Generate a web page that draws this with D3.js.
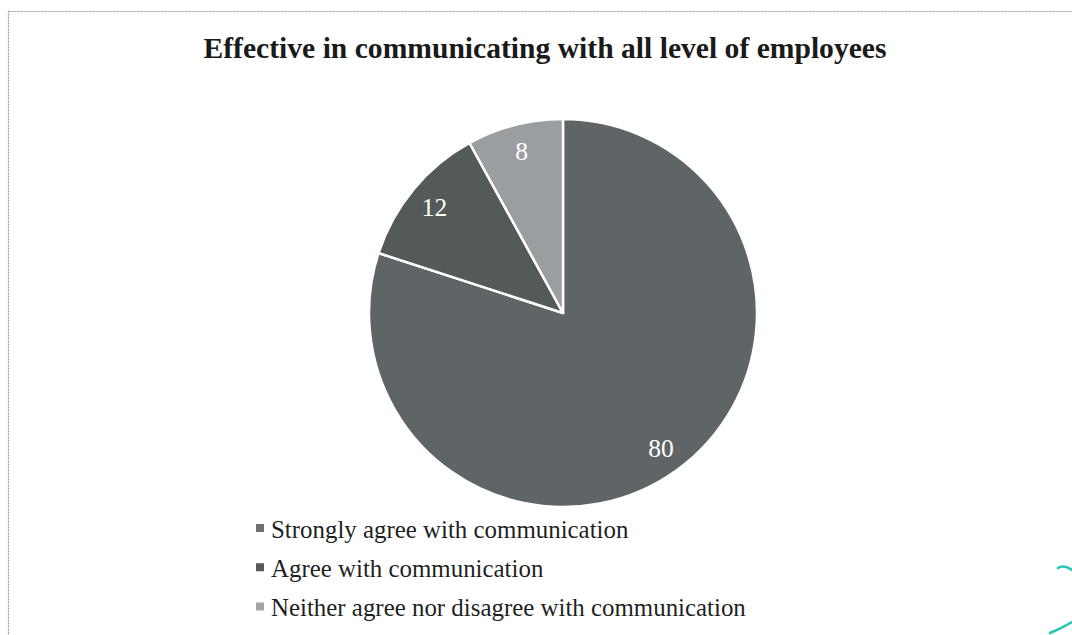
<!DOCTYPE html>
<html>
<head>
<meta charset="utf-8">
<script src="https://cdn.jsdelivr.net/npm/d3@7"></script>
<style>
html,body{margin:0;padding:0;background:#fff;}
svg{display:block;}
</style>
</head>
<body>
<svg id="chart" width="1072" height="635"></svg>
<script>
const title = "Effective in communicating with all level of employees";
const categories = ["Strongly agree with communication", "Agree with communication", "Neither agree nor disagree with communication"];
const values = [80, 12, 8];
const sliceColors = ["#5f6567", "#545a59", "#9b9ea0"];
const legendColors = ["#6e7070", "#585b5b", "#a3a6a7"];

const svg = d3.select("#chart");
const W = 1072, H = 635;

// frame
svg.append("rect").attr("x", 8.5).attr("y", 11.5).attr("width", W + 10).attr("height", H + 10)
  .attr("fill", "none").attr("stroke", "#9a9a9a").attr("stroke-width", 1.2).attr("stroke-dasharray", "2,1");

svg.append("text").attr("x", 545).attr("y", 58)
  .attr("text-anchor", "middle")
  .attr("font-family", "'Liberation Serif', 'Times New Roman', serif")
  .attr("font-weight", "bold").attr("font-size", 29.6).attr("fill", "#1a1a1a")
  .text(title);

const cx = 563, cy = 313, r = 194;
const pie = d3.pie().sort(null).value(d => d)(values);
const arc = d3.arc().innerRadius(0).outerRadius(r);
const g = svg.append("g").attr("transform", `translate(${cx},${cy})`);
g.selectAll("path").data(pie).join("path")
  .attr("d", arc)
  .attr("fill", (d, i) => sliceColors[i])
  .attr("stroke", "#ffffff").attr("stroke-width", 2.5).attr("stroke-linejoin", "round");

const labelArc = d3.arc().innerRadius(r * 0.86).outerRadius(r * 0.86);
g.selectAll("text.lbl").data(pie).join("text")
  .attr("class", "lbl")
  .attr("transform", d => `translate(${labelArc.centroid(d)})`)
  .attr("text-anchor", "middle").attr("dy", "0.35em")
  .attr("font-family", "'Liberation Serif', 'Times New Roman', serif")
  .attr("font-size", 25.5).attr("fill", "#ffffff")
  .text(d => d.data);

const yScale = d3.scalePoint().domain(categories).range([528, 606.5]);
const lg = svg.append("g");
const items = lg.selectAll("g").data(categories).join("g")
  .attr("transform", d => `translate(0,${yScale(d)})`);
items.append("rect").attr("x", 256).attr("y", -4).attr("width", 8).attr("height", 8)
  .attr("fill", (d, i) => legendColors[i]);
items.append("text").attr("x", 271).attr("y", 9.5)
  .attr("font-family", "'Liberation Serif', 'Times New Roman', serif")
  .attr("font-size", 24.9).attr("fill", "#1f1f1f")
  .text(d => d);

// pen mark in scan corner
svg.append("path").attr("d", "M1058,568 Q1064,564 1072,570")
  .attr("fill", "none").attr("stroke", "#22c8b0").attr("stroke-width", 2.5).attr("stroke-linecap", "round");
svg.append("path").attr("d", "M1050,633 Q1062,628 1072,622")
  .attr("fill", "none").attr("stroke", "#22c8b0").attr("stroke-width", 2.5).attr("stroke-linecap", "round");
</script>
</body>
</html>
